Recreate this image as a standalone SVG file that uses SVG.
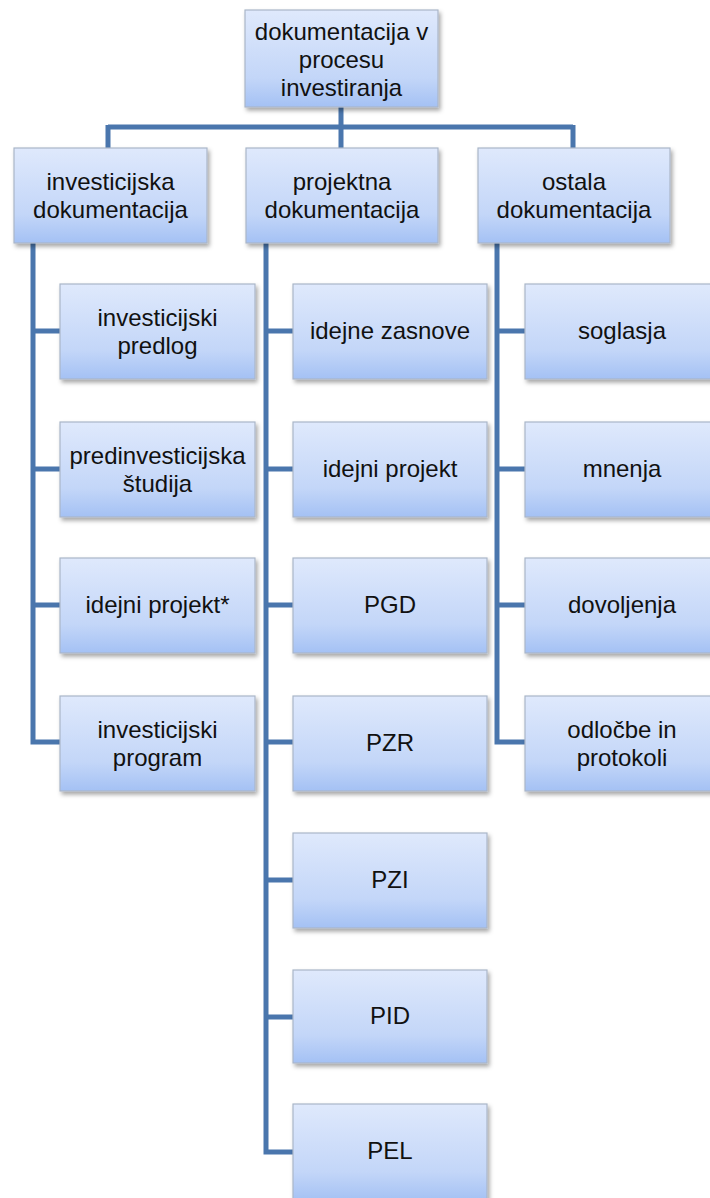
<svg xmlns="http://www.w3.org/2000/svg" width="710" height="1198" viewBox="0 0 710 1198">
  <defs>
    <linearGradient id="g" x1="0" y1="0" x2="0" y2="1">
      <stop offset="0" stop-color="#dfe9fc"/>
      <stop offset="0.7" stop-color="#c3d6f8"/>
      <stop offset="1" stop-color="#a4c1f4"/>
    </linearGradient>
    <filter id="sh" x="-10%" y="-10%" width="125%" height="130%">
      <feDropShadow dx="2" dy="3" stdDeviation="2" flood-color="#000" flood-opacity="0.35"/>
    </filter>
  </defs>
  <style>
    .box { fill: url(#g); stroke: #aab6c8; stroke-width: 1.2; filter: url(#sh); }
    .t { font-family: "Liberation Sans", Arial, sans-serif; font-size: 24px; fill: #111; text-anchor: middle; }
    .c { fill: none; stroke: #4a76ad; stroke-width: 5; stroke-linejoin: miter; }
  </style>
  <rect width="710" height="1198" fill="#fff"/>
  <g id="connectors">
    <path class="c" d="M341 107 V127 M108 127 H573 M108 125 V148 M341 127 V148 M573 125 V148"/>
    <path class="c" d="M33 243 V742 H60 M33 331 H60 M33 469 H60 M33 605 H60"/>
    <path class="c" d="M266 243 V1152 H293 M266 331 H293 M266 469 H293 M266 605 H293 M266 742 H293 M266 880 H293 M266 1017 H293"/>
    <path class="c" d="M497 243 V742 H525 M497 331 H525 M497 469 H525 M497 605 H525"/>
  </g>
  <g id="root">
    <rect class="box" x="245" y="10" width="193" height="97"/>
    <text class="t" x="341.5" y="40">dokumentacija v</text>
    <text class="t" x="341.5" y="68">procesu</text>
    <text class="t" x="341.5" y="96">investiranja</text>
  </g>
  <g id="investicijska">
    <rect class="box" x="14" y="148" width="193" height="95"/>
    <text class="t" x="110.5" y="190">investicijska</text>
    <text class="t" x="110.5" y="218">dokumentacija</text>
  </g>
  <g id="projektna">
    <rect class="box" x="246" y="148" width="192" height="95"/>
    <text class="t" x="342" y="190">projektna</text>
    <text class="t" x="342" y="218">dokumentacija</text>
  </g>
  <g id="ostala">
    <rect class="box" x="478" y="148" width="192" height="95"/>
    <text class="t" x="574" y="190">ostala</text>
    <text class="t" x="574" y="218">dokumentacija</text>
  </g>
  <g id="inv-predlog">
    <rect class="box" x="60" y="284" width="195" height="95"/>
    <text class="t" x="157.5" y="326">investicijski</text>
    <text class="t" x="157.5" y="354">predlog</text>
  </g>
  <g id="predinv-studija">
    <rect class="box" x="60" y="422" width="195" height="95"/>
    <text class="t" x="157.5" y="464">predinvesticijska</text>
    <text class="t" x="157.5" y="492">študija</text>
  </g>
  <g id="idejni-projekt-star">
    <rect class="box" x="60" y="558" width="195" height="95"/>
    <text class="t" x="157.5" y="613">idejni projekt*</text>
  </g>
  <g id="inv-program">
    <rect class="box" x="60" y="696" width="195" height="95"/>
    <text class="t" x="157.5" y="738">investicijski</text>
    <text class="t" x="157.5" y="766">program</text>
  </g>
  <g id="idejne-zasnove">
    <rect class="box" x="293" y="284" width="194" height="95"/>
    <text class="t" x="390" y="339">idejne zasnove</text>
  </g>
  <g id="idejni-projekt">
    <rect class="box" x="293" y="422" width="194" height="95"/>
    <text class="t" x="390" y="477">idejni projekt</text>
  </g>
  <g id="pgd">
    <rect class="box" x="293" y="558" width="194" height="95"/>
    <text class="t" x="390" y="613">PGD</text>
  </g>
  <g id="pzr">
    <rect class="box" x="293" y="696" width="194" height="95"/>
    <text class="t" x="390" y="751">PZR</text>
  </g>
  <g id="pzi">
    <rect class="box" x="293" y="833" width="194" height="95"/>
    <text class="t" x="390" y="888">PZI</text>
  </g>
  <g id="pid">
    <rect class="box" x="293" y="970" width="194" height="93"/>
    <text class="t" x="390" y="1024">PID</text>
  </g>
  <g id="pel">
    <rect class="box" x="293" y="1104" width="194" height="97"/>
    <text class="t" x="390" y="1159">PEL</text>
  </g>
  <g id="soglasja">
    <rect class="box" x="525" y="284" width="194" height="95"/>
    <text class="t" x="622" y="339">soglasja</text>
  </g>
  <g id="mnenja">
    <rect class="box" x="525" y="422" width="194" height="95"/>
    <text class="t" x="622" y="477">mnenja</text>
  </g>
  <g id="dovoljenja">
    <rect class="box" x="525" y="558" width="194" height="95"/>
    <text class="t" x="622" y="613">dovoljenja</text>
  </g>
  <g id="odlocbe">
    <rect class="box" x="525" y="696" width="194" height="95"/>
    <text class="t" x="622" y="738">odločbe in</text>
    <text class="t" x="622" y="766">protokoli</text>
  </g>
</svg>
